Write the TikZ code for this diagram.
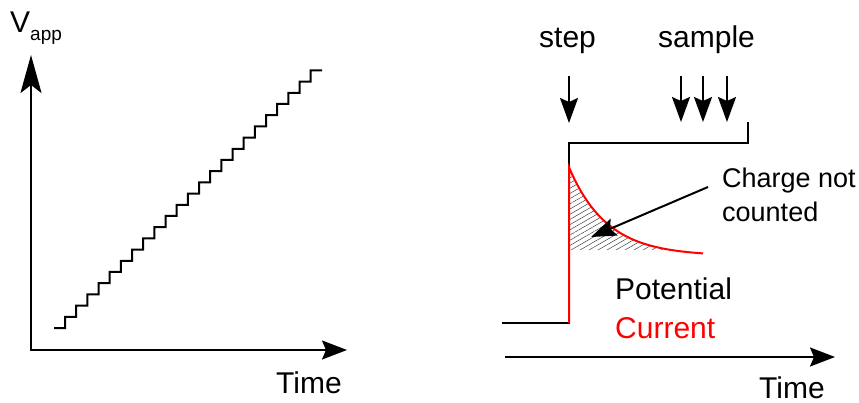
\documentclass[tikz,border=0pt]{standalone}
\usepackage{fontspec}
\setmainfont{Liberation Sans}
\usetikzlibrary{arrows.meta,patterns.meta}

\begin{document}
\begin{tikzpicture}[
 x=1pt,y=-1pt,font=\fontsize{30}{36}\selectfont,
 trace/.style={draw=black,line width=2pt},
 cur/.style={draw=red,line width=2pt},
 axes/.style={{Stealth[length=38pt,width=21pt,inset=8pt]}-{Stealth[length=25pt,width=19pt,inset=4pt]},line width=2pt},
 taxis/.style={-{Stealth[length=25pt,width=19pt,inset=4pt]},line width=2pt},
 cue/.style={-{Stealth[length=25pt,width=18pt,inset=4pt]},line width=2pt},
 lab/.style={anchor=base west,inner sep=0pt},
 small/.style={font=\fontsize{27}{34}\selectfont,align=left,anchor=north west,inner sep=0pt},
 declare function={decay(\t)=256-91*exp(-(\t-568)/38);}
]
\path[fill=white,use as bounding box] (0,0) rectangle (859,403);

% left: staircase ramp
\coordinate (ytip) at (31,55);
\coordinate (org) at (31,350);
\coordinate (xtip) at (347,350);
\draw[axes] (ytip) -- (org) -- (xtip);
\node[lab] (vapp) at (10,33) {V\raisebox{-8pt}{\fontsize{19}{22}\selectfont app}};
\node[lab] (tl) at (276,393) {Time};
\draw[trace,line join=miter] (54,328) \foreach \i in {0,...,22} { -| ({65+11.17*\i},{328-11.2*(\i+1)}) } -- (322,70.4);

% right: single step and current decay
\fill[pattern={Lines[angle=30,distance=4.5pt,line width=.5pt]},pattern color=black!75]
 (569,250) -- (569,166) -- plot[domain=569:671,samples=40] (\x,{decay(\x)}) -- cycle;
\draw[trace] (502,323) -- (569,323) -- (569,143) -- (748,143) -- (748,122);
\draw[cur] (569,323) -- plot[domain=569:703,samples=50] (\x,{decay(\x)});

\node[lab] (step) at (539,48) {step};
\node[lab] (samp) at (658,48) {sample};
\coordinate (s0) at (569,76);  \coordinate (s1) at (569,123);
\coordinate (a0) at (681,76);  \coordinate (a1) at (681,122);
\coordinate (b0) at (703,76);  \coordinate (b1) at (703,122);
\coordinate (c0) at (727,76);  \coordinate (c1) at (727,122);
\draw[cue] (s0) -- (s1);
\draw[cue] (a0) -- (a1);
\draw[cue] (b0) -- (b1);
\draw[cue] (c0) -- (c1);

\node[small] (chg) at (722,167.5) {Charge not\\counted};
\coordinate (cfrom) at (708,187);
\coordinate (cto) at (591,237);
\draw[cue] (cfrom) -- (cto);

\node[lab] (pot) at (615,299) {Potential};
\node[lab,text=red] (curr) at (615,338) {Current};
\coordinate (t0) at (505,357);
\coordinate (t1) at (835,357);
\draw[taxis] (t0) -- (t1);
\node[lab] (tr) at (759,398) {Time};
\end{tikzpicture}
\end{document}
